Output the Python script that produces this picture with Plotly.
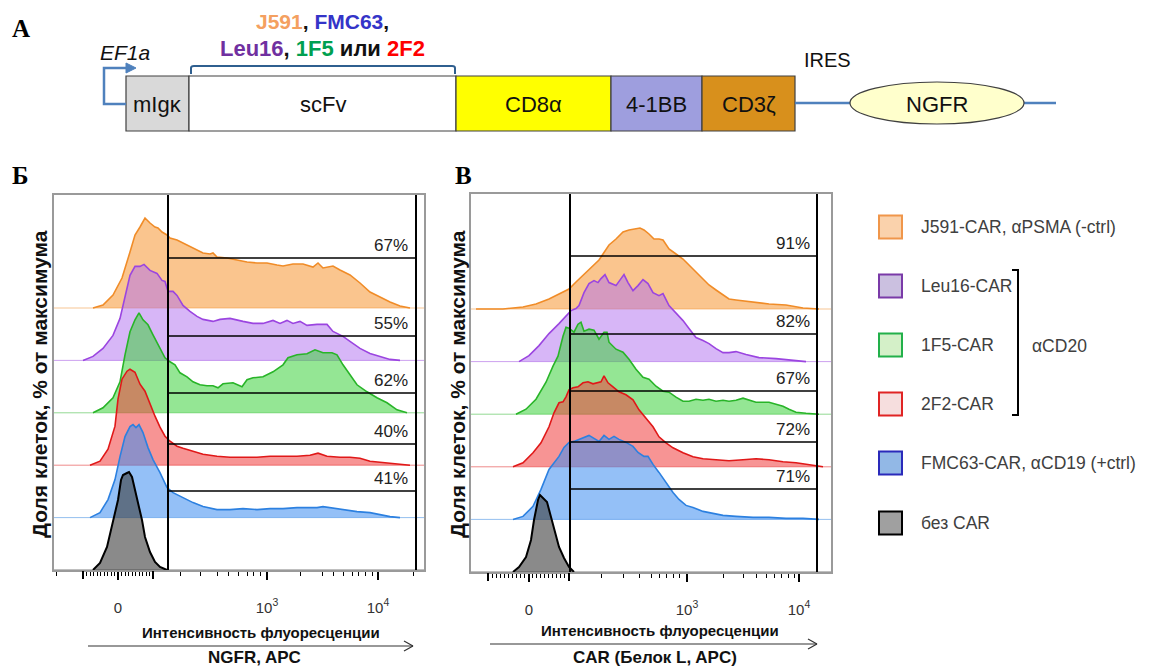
import plotly.graph_objects as go

W, H = 1153, 668
FONT = "Liberation Sans, Arial, sans-serif"


def fx(p):
    return p / W


def fy(p):
    return 1 - p / H


# ---------------- data ----------------
samples = ["J591-CAR, αPSMA (-ctrl)", "Leu16-CAR", "1F5-CAR", "2F2-CAR",
           "FMC63-CAR, αCD19 (+ctrl)", "без CAR"]
line_colors = ["#F08C28", "#9B45E0", "#28B428", "#E01818", "#2C80E0", "#000000"]
fill_colors = ["rgba(245,150,50,0.55)", "rgba(175,110,240,0.5)", "rgba(60,210,60,0.55)",
               "rgba(240,60,60,0.55)", "rgba(60,140,240,0.55)", "rgba(60,60,60,0.6)"]
base_colors = ["rgba(240,140,40,0.5)", "rgba(155,69,224,0.5)", "rgba(40,180,40,0.5)",
               "rgba(224,24,24,0.5)", "rgba(44,128,224,0.5)", "rgba(0,0,0,0.5)"]
legend_fill = ["#FAD2AC", "#CBC0E0", "#D4F0C8", "#F6DEDE", "#92B8E6", "#A0A0A0"]
legend_line = ["#F0964A", "#7A3AA8", "#22B04A", "#E02424", "#2A2ABA", "#000000"]

# Panel Б: NGFR, APC  (display channel, % of max)
ngfr_j591_x = [39, 49, 59, 68, 76, 81, 86, 91, 96, 101, 104, 108, 113, 116, 123, 129, 136, 143, 149, 156,
               159, 163, 173, 183, 193, 203, 213, 223, 229, 239, 249, 259, 264, 269, 279, 286, 296, 306,
               316, 326, 336, 346, 356]
ngfr_j591_y = [0, 3, 13, 30, 56, 73, 81, 90, 85, 81, 80, 76, 73, 70, 68, 65, 61, 58, 55, 54,
               55, 51, 50, 48, 46, 45, 45, 43, 42, 44, 44, 41, 45, 40, 42, 38, 33, 25,
               16, 11, 6, 2, 0]
ngfr_leu16_x = [29, 39, 49, 59, 66, 71, 76, 81, 86, 90, 96, 103, 108, 111, 114, 119, 123, 129, 136, 143,
                149, 159, 166, 176, 183, 189, 199, 209, 219, 226, 233, 239, 246, 253, 263, 273, 279, 289,
                296, 306, 316, 326, 336, 346]
ngfr_leu16_y = [0, 4, 12, 25, 42, 65, 85, 94, 94, 96, 90, 87, 80, 79, 69, 69, 65, 55, 49, 44,
                41, 39, 41, 42, 40, 39, 37, 37, 40, 37, 40, 37, 39, 35, 36, 36, 29, 24,
                19, 12, 7, 4, 1, 0]
ngfr_1f5_x = [39, 49, 59, 66, 71, 76, 81, 85, 89, 94, 99, 106, 111, 116, 121, 126, 133, 139, 146, 153,
              159, 164, 169, 179, 188, 193, 199, 209, 219, 229, 234, 243, 253, 261, 269, 278, 283, 289,
              296, 303, 313, 323, 333, 343, 353]
ngfr_1f5_y = [0, 5, 15, 31, 58, 81, 93, 100, 93, 88, 78, 65, 55, 51, 48, 40, 36, 31, 28, 27,
              27, 25, 29, 30, 26, 33, 35, 36, 41, 48, 55, 58, 59, 63, 60, 60, 58, 48,
              38, 28, 21, 15, 10, 3, 0]
ngfr_2f2_x = [36, 46, 54, 61, 64, 68, 73, 76, 81, 86, 91, 96, 101, 106, 111, 116, 123, 129, 139, 149,
              163, 176, 189, 203, 216, 229, 243, 256, 264, 273, 286, 296, 306, 316, 326, 336, 346, 356]
ngfr_2f2_y = [0, 4, 16, 39, 66, 86, 94, 96, 93, 81, 74, 61, 49, 38, 29, 24, 19, 17, 14, 11,
              9, 8, 8, 8, 9, 9, 9, 10, 12, 9, 8, 8, 7, 4, 3, 2, 1, 0]
ngfr_fmc63_x = [36, 46, 54, 61, 66, 71, 76, 79, 82, 85, 89, 94, 99, 106, 113, 119, 129, 139, 149, 163,
                176, 189, 203, 216, 229, 243, 256, 263, 269, 276, 289, 303, 316, 326, 336, 346]
ngfr_fmc63_y = [0, 5, 18, 38, 61, 81, 91, 93, 90, 93, 85, 70, 58, 45, 30, 25, 20, 15, 11, 8,
                8, 9, 8, 9, 9, 10, 10, 10, 11, 10, 8, 6, 5, 3, 1, 0]
ngfr_nocar_x = [39, 46, 53, 59, 64, 67, 69, 73, 75, 78, 81, 84, 88, 91, 96, 101, 106, 113]
ngfr_nocar_y = [0, 7, 23, 47, 70, 90, 95, 97, 98, 93, 80, 67, 50, 33, 18, 8, 3, 0]

# Panel В: CAR (protein L, APC)
car_j591_x = [5, 32, 52, 65, 78, 88, 98, 105, 112, 122, 128, 132, 138, 145, 152, 158, 165, 169, 173, 178,
              183, 188, 192, 198, 205, 212, 218, 225, 232, 238, 245, 252, 258, 265, 282, 298, 315, 332, 348]
car_j591_y = [0, 0, 2, 5, 10, 15, 20, 27, 34, 44, 49, 55, 64, 70, 77, 79, 80, 81, 79, 75,
              70, 70, 69, 60, 55, 50, 44, 37, 30, 24, 19, 14, 10, 9, 7, 5, 4, 1, 0]
car_leu16_x = [48, 58, 68, 78, 88, 95, 100, 105, 108, 113, 118, 123, 127, 130, 134, 138, 145, 150, 153, 157,
               162, 167, 172, 177, 182, 188, 192, 198, 205, 212, 218, 225, 232, 238, 245, 252, 258, 265,
               275, 288, 305, 322, 335]
car_leu16_y = [0, 6, 16, 28, 38, 46, 51, 53, 56, 69, 78, 81, 79, 83, 87, 79, 76, 83, 87, 79,
               71, 76, 82, 78, 69, 66, 68, 56, 49, 41, 33, 24, 21, 18, 13, 9, 9, 10,
               7, 4, 3, 1, 0]
car_1f5_x = [45, 55, 65, 75, 82, 87, 92, 95, 98, 103, 107, 110, 113, 118, 123, 128, 133, 136, 138, 145,
             152, 158, 165, 172, 178, 185, 192, 198, 205, 212, 218, 225, 232, 238, 245, 252, 258, 265,
             272, 278, 285, 292, 298, 305, 312, 318, 325, 335, 348]
car_1f5_y = [0, 5, 15, 32, 48, 58, 78, 87, 86, 82, 90, 92, 83, 85, 84, 75, 82, 82, 72, 65,
             62, 55, 45, 37, 35, 28, 23, 22, 17, 13, 13, 15, 14, 15, 13, 14, 13, 14,
             16, 14, 12, 12, 12, 10, 8, 5, 2, 1, 0]
car_2f2_x = [42, 52, 62, 70, 78, 83, 88, 92, 95, 98, 102, 107, 112, 117, 122, 127, 130, 133, 137, 142,
             148, 155, 162, 168, 175, 182, 188, 195, 202, 212, 222, 232, 245, 258, 272, 285, 298, 312,
             325, 338, 352]
car_2f2_y = [0, 4, 14, 24, 40, 54, 64, 65, 70, 77, 79, 80, 84, 85, 83, 84, 85, 91, 84, 80,
             75, 72, 67, 57, 49, 40, 30, 24, 19, 14, 10, 8, 7, 6, 7, 8, 7, 5,
             4, 2, 0]
car_fmc63_x = [42, 52, 62, 70, 78, 83, 88, 93, 98, 103, 108, 113, 118, 123, 128, 133, 138, 143, 148, 155,
               162, 167, 170, 173, 177, 182, 188, 195, 202, 208, 215, 222, 232, 242, 252, 265, 282, 298,
               315, 332, 348]
car_fmc63_y = [0, 3, 13, 30, 50, 57, 63, 72, 77, 78, 80, 82, 84, 81, 78, 84, 80, 83, 80, 77,
               73, 67, 65, 63, 63, 55, 47, 37, 27, 20, 14, 12, 8, 6, 4, 3, 2, 2,
               1, 1, 0]
car_nocar_x = [42, 48, 55, 60, 63, 67, 69, 72, 76, 80, 84, 88, 93, 98, 103]
car_nocar_y = [0, 5, 15, 32, 52, 72, 77, 74, 70, 55, 39, 25, 14, 5, 0]

ngfr_x = [ngfr_j591_x, ngfr_leu16_x, ngfr_1f5_x, ngfr_2f2_x, ngfr_fmc63_x, ngfr_nocar_x]
ngfr_y = [ngfr_j591_y, ngfr_leu16_y, ngfr_1f5_y, ngfr_2f2_y, ngfr_fmc63_y, ngfr_nocar_y]
car_x = [car_j591_x, car_leu16_x, car_1f5_x, car_2f2_x, car_fmc63_x, car_nocar_x]
car_y = [car_j591_y, car_leu16_y, car_1f5_y, car_2f2_y, car_fmc63_y, car_nocar_y]

ngfr_pct = ["67%", "55%", "62%", "40%", "41%"]
car_pct = ["91%", "82%", "67%", "72%", "71%"]
ngfr_gate_levels = [312, 234, 177, 126, 79]
car_gate_levels = [316, 238, 181, 130, 83]

tick_text = ["0", "10<sup>3</sup>", "10<sup>4</sup>"]
ngfr_major = [64, 213, 324]          # 0, 10^3, 10^4
car_major = [58, 216, 328]
ngfr_pm100 = [29, 99]                # -10^2, 10^2 (unlabelled major ticks)
car_pm100 = [17, 98]
ngfr_minor = ([2] + [29 + 3.5 * k for k in range(1, 20) if k != 10]
              + [126, 146, 163, 174, 184, 193, 199, 206]
              + [246, 268, 279, 289, 298, 304, 311, 318] + [359])
car_minor = ([17 + 4.05 * k for k in range(1, 20) if k != 10]
             + [130, 152, 168, 180, 188, 195, 202, 208]
             + [252, 272, 285, 295, 303, 310, 317, 323])

panels = [
    dict(xa="x", ya="y", xdom=[fx(54), fx(424)], ydom=[fy(570), fy(195)], xr=[0, 370], yr=[0, 375],
         step=52.4, gate=(114, 362), xs=ngfr_x, ys=ngfr_y, pct=ngfr_pct, lev=ngfr_gate_levels,
         major=ngfr_major, pm=ngfr_pm100, minor=ngfr_minor, lab_dx=6),
    dict(xa="x2", ya="y2", xdom=[fx(471), fx(831)], ydom=[fy(572), fy(194)], xr=[0, 360], yr=[0, 378],
         step=52.6, gate=(99, 346), xs=car_x, ys=car_y, pct=car_pct, lev=car_gate_levels,
         major=car_major, pm=car_pm100, minor=car_minor, lab_dx=5),
]

fig = go.Figure()
shapes = []
annots = []


def text(x, y, t, size, color="#111", family=FONT, xanchor="center", yanchor="middle", **kw):
    annots.append(dict(xref="paper", yref="paper", x=fx(x), y=fy(y), text=t, showarrow=False,
                       xanchor=xanchor, yanchor=yanchor,
                       font=dict(size=size, color=color, family=family), **kw))


for k, p in enumerate(panels):
    for i in range(6):
        off = (5 - i) * p["step"]
        fig.add_trace(go.Scatter(
            x=p["xs"][i], y=[off + v for v in p["ys"][i]], mode="lines",
            fill="toself", fillcolor=fill_colors[i],
            line=dict(color=line_colors[i], width=2 if i == 5 else 1.6),
            xaxis=p["xa"], yaxis=p["ya"], hoverinfo="skip", showlegend=False))
        shapes.append(dict(type="line", xref=p["xa"], yref=p["ya"], x0=p["xr"][0], x1=p["xr"][1],
                           y0=off, y1=off, layer="below", line=dict(color=base_colors[i], width=1)))
    # empty trace so the overlay axis carrying the ±10^2 ticks is drawn
    fig.add_trace(go.Scatter(x=[], y=[], xaxis="x3" if k == 0 else "x4", yaxis=p["ya"],
                             hoverinfo="skip", showlegend=False))
    glo, ghi = p["gate"]
    for g in (glo, ghi):
        shapes.append(dict(type="line", xref=p["xa"], yref=p["ya"] + " domain", x0=g, x1=g, y0=0, y1=1,
                           line=dict(color="black", width=2)))
    for t, lv in zip(p["pct"], p["lev"]):
        shapes.append(dict(type="line", xref=p["xa"], yref=p["ya"], x0=glo, x1=ghi, y0=lv, y1=lv,
                           line=dict(color="black", width=1.5)))
        annots.append(dict(xref=p["xa"], yref=p["ya"], x=ghi - p["lab_dx"], y=lv + 12.5, text=t,
                           showarrow=False, xanchor="right", yanchor="middle",
                           font=dict(size=17, color="#222", family=FONT)))

axis_common = dict(showline=True, mirror=True, linecolor="#9a9a9a", linewidth=1.5,
                   showgrid=False, zeroline=False)
for k, p in enumerate(panels):
    sfx = "" if k == 0 else "2"
    ov = "3" if k == 0 else "4"
    fig.update_layout(**{
        "xaxis" + sfx: dict(domain=p["xdom"], range=p["xr"], anchor="y" + sfx, ticks="outside",
                            ticklen=8, tickwidth=2, tickcolor="black", tickmode="array",
                            tickvals=p["major"], ticktext=tick_text,
                            tickfont=dict(size=15, color="#333", family=FONT), ticklabelstandoff=15,
                            minor=dict(ticks="outside", tickmode="array", tickvals=p["minor"],
                                       ticklen=4, tickwidth=1, tickcolor="black", showgrid=False),
                            **axis_common),
        "xaxis" + ov: dict(overlaying="x" + sfx, anchor="y" + sfx, side="bottom", range=p["xr"],
                           domain=p["xdom"],
                           ticks="outside", ticklen=8, tickwidth=2, tickcolor="black",
                           tickmode="array", tickvals=p["pm"], showticklabels=False,
                           showline=False, showgrid=False, zeroline=False),
        "yaxis" + sfx: dict(domain=p["ydom"], range=p["yr"], anchor="x" + sfx, showticklabels=False,
                            ticks="", **axis_common),
    })


# axis titles + arrows
def arrow(x0, x1, y):
    shapes.append(dict(type="line", xref="paper", yref="paper", x0=fx(x0), x1=fx(x1), y0=fy(y), y1=fy(y),
                       line=dict(color="#333", width=1.2)))
    for d in (-5, 5):
        shapes.append(dict(type="line", xref="paper", yref="paper", x0=fx(x1 - 9), x1=fx(x1),
                           y0=fy(y + d), y1=fy(y), line=dict(color="#333", width=1.2)))


arrow(88, 413, 646)
arrow(490, 817, 644)
text(261, 632, "<b>Интенсивность флуоресценции</b>", 15)
text(254, 657, "<b>NGFR, APC</b>", 17)
text(660, 630, "<b>Интенсивность флуоресценции</b>", 15)
text(655, 657, "<b>CAR (Белок L, APC)</b>", 17)
for xc in (39, 457):
    text(xc, 384, "<b>Доля клеток, % от максимума</b>", 21, textangle=-90)

# panel letters
SERIF = "Liberation Serif, Times New Roman, serif"
text(21, 28, "<b>А</b>", 25, color="black", family=SERIF)
text(21, 175, "<b>Б</b>", 25, color="black", family=SERIF)
text(463, 175, "<b>В</b>", 25, color="black", family=SERIF)

# ---------------- construct (A) ----------------
blocks = [("mIgκ", 126, 189, "#D9D9D9"), ("scFv", 189, 456, "#FFFFFF"), ("CD8α", 456, 611, "#FFFF00"),
          ("4-1BB", 611, 702, "#9E9EDE"), ("CD3ζ", 702, 795, "#D8901C")]
BT, BB = 76, 131
for name, x0, x1, col in blocks:
    shapes.append(dict(type="rect", xref="paper", yref="paper", x0=fx(x0), x1=fx(x1), y0=fy(BB), y1=fy(BT),
                       fillcolor=col, line=dict(color="#404040", width=1.2)))
    text((x0 + x1) / 2, (BT + BB) / 2 + 1, name, 22)
LC = "#4F81BD"
shapes.append(dict(type="line", xref="paper", yref="paper", x0=fx(795), x1=fx(850), y0=fy(103), y1=fy(103),
                   line=dict(color=LC, width=2.5)))
shapes.append(dict(type="line", xref="paper", yref="paper", x0=fx(1024), x1=fx(1056), y0=fy(103), y1=fy(103),
                   line=dict(color=LC, width=2.5)))
shapes.append(dict(type="circle", xref="paper", yref="paper", x0=fx(850), x1=fx(1024), y0=fy(124), y1=fy(82),
                   fillcolor="#FFFFCC", line=dict(color="#404040", width=1.2)))
text(937, 104, "NGFR", 22)
text(827, 60, "IRES", 20)
# promoter arrow
shapes.append(dict(type="path", xref="paper", yref="paper",
                   path=f"M {fx(126)},{fy(104)} L {fx(104)},{fy(104)} L {fx(104)},{fy(68)} L {fx(128)},{fy(68)}",
                   line=dict(color=LC, width=2.5)))
shapes.append(dict(type="path", xref="paper", yref="paper",
                   path=f"M {fx(126)},{fy(63)} L {fx(136)},{fy(68)} L {fx(126)},{fy(73)} Z",
                   fillcolor=LC, line=dict(color=LC, width=1)))
text(125, 52, "<i>EF1a</i>", 21)
# bracket above scFv
shapes.append(dict(type="path", xref="paper", yref="paper",
                   path=(f"M {fx(191)},{fy(74)} L {fx(191)},{fy(68)} Q {fx(191)},{fy(66)} {fx(194)},{fy(66)} "
                         f"L {fx(452)},{fy(66)} Q {fx(455)},{fy(66)} {fx(455)},{fy(68)} L {fx(455)},{fy(74)}"),
                   line=dict(color="#2F5F8F", width=2)))
text(322, 22, '<b><span style="color:#F4A060">J591</span>, <span style="color:#3434C8">FMC63</span>,</b>', 21)
text(322, 48, ('<b><span style="color:#7030A0">Leu16</span>, <span style="color:#00A050">1F5</span> '
               'или <span style="color:#FF0000">2F2</span></b>'), 22)

# ---------------- legend ----------------
leg_y = [227, 286, 345, 404, 463, 523]
for i, yc in enumerate(leg_y):
    shapes.append(dict(type="rect", xref="paper", yref="paper", x0=fx(879), x1=fx(902), y0=fy(yc + 11.5),
                       y1=fy(yc - 11.5), fillcolor=legend_fill[i], line=dict(color=legend_line[i], width=2)))
    text(919, yc, samples[i], 17.5, color="#404040", xanchor="left")
shapes.append(dict(type="path", xref="paper", yref="paper",
                   path=f"M {fx(1012)},{fy(270)} L {fx(1018)},{fy(270)} L {fx(1018)},{fy(415)} L {fx(1012)},{fy(415)}",
                   line=dict(color="black", width=2)))
text(1030, 346, "αCD20", 17.5, color="#404040", xanchor="left")

fig.update_layout(width=W, height=H, autosize=False, margin=dict(l=0, r=0, t=0, b=0),
                  paper_bgcolor="white", plot_bgcolor="white", showlegend=False,
                  shapes=shapes, annotations=annots, font=dict(family=FONT))

fig.write_html("out.html")
